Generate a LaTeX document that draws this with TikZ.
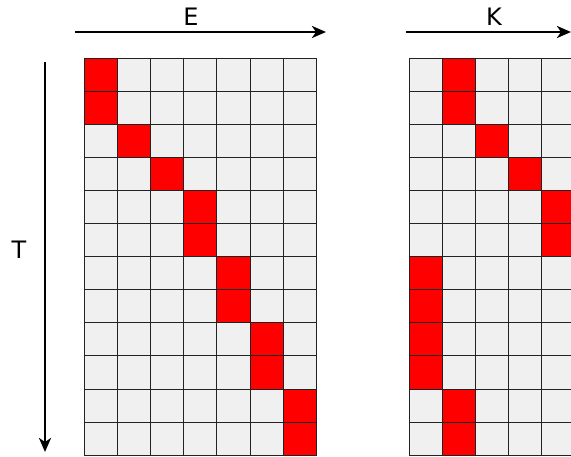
\documentclass[tikz,border=0pt]{standalone}
\usepackage{fontspec}
\setmainfont{DejaVu Sans}
\usetikzlibrary{arrows.meta}
\definecolor{cellgray}{HTML}{F0F0F0}
\definecolor{gridline}{HTML}{222222}
\definecolor{hot}{HTML}{FF0000}
\begin{document}
\begin{tikzpicture}[x=1pt,y=-1pt,
  axis/.style={line width=2.6pt,-{Stealth[length=14pt,width=12pt,inset=4pt]}},
  lbl/.style={font=\fontsize{24}{28}\selectfont,inner sep=0pt},
  gline/.style={draw=gridline,line width=0.9pt},
  redcell/.style={fill=hot},
  graycell/.style={fill=cellgray}]
\useasboundingbox (0,0) rectangle (571,457);
\clip (0,0) rectangle (571,457);
\def\cw{33.2}
\def\ch{33.1}
% left grid
\begin{scope}[shift={(84.1,58)}]
  \fill[graycell] (0,0) rectangle ({7*\cw},{12*\ch});
  \foreach \r/\c in {0/0,1/0,2/1,3/2,4/3,5/3,6/4,7/4,8/5,9/5,10/6,11/6}
    \fill[redcell] ({\c*\cw},{\r*\ch}) rectangle ({(\c+1)*\cw},{(\r+1)*\ch});
  \foreach \c in {0,...,7} \draw[gline] ({\c*\cw},0) -- ({\c*\cw},{12*\ch});
  \foreach \r in {0,...,12} \draw[gline] (0,{\r*\ch}) -- ({7*\cw},{\r*\ch});
\end{scope}
% right grid
\begin{scope}[shift={(409,58)}]
  \fill[graycell] (0,0) rectangle ({7*\cw},{12*\ch});
  \foreach \r/\c in {0/1,1/1,2/2,3/3,4/4,5/4,6/0,7/0,8/0,9/0,10/1,11/1}
    \fill[redcell] ({\c*\cw},{\r*\ch}) rectangle ({(\c+1)*\cw},{(\r+1)*\ch});
  \foreach \c in {0,...,7} \draw[gline] ({\c*\cw},0) -- ({\c*\cw},{12*\ch});
  \foreach \r in {0,...,12} \draw[gline] (0,{\r*\ch}) -- ({7*\cw},{\r*\ch});
\end{scope}
% axes
\coordinate (e1) at (75,32);
\coordinate (e2) at (326,32);
\coordinate (k1) at (406,32);
\coordinate (k2) at (571,32);
\coordinate (t1) at (45,62);
\coordinate (t2) at (45,452);
\draw[axis] (e1) -- (e2);
\draw[axis] (k1) -- (k2);
\draw[axis] (t1) -- (t2);
\node[lbl] (E) at (191,17) {E};
\node[lbl] (K) at (494,17) {K};
\node[lbl] (T) at (19,250) {T};
\end{tikzpicture}
\end{document}
